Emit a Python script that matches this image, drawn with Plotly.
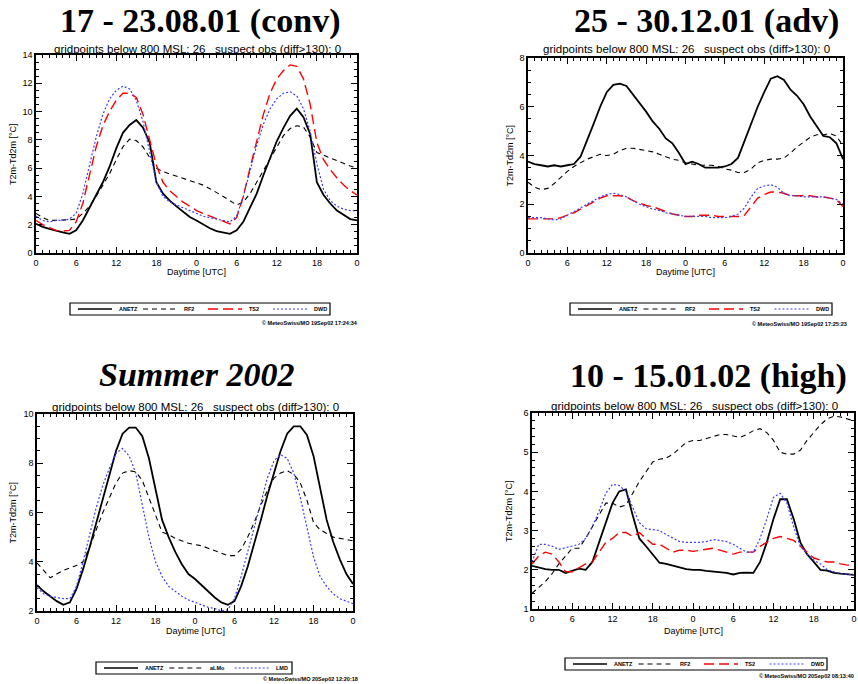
import plotly.graph_objects as go

hours = list(range(49))
tick_vals = [0, 6, 12, 18, 24, 30, 36, 42, 48]
tick_text = ["0", "6", "12", "18", "0", "6", "12", "18", "0"]

# Panel 1: 17 - 23.08.01 (conv)
p1_anetz = [2.06, 1.85, 1.7, 1.55, 1.45, 1.35, 1.6, 2.3, 3.2, 4.0, 5.0, 6.1, 7.4, 8.5, 9.05, 9.4, 8.86, 7.8,
            5.0, 4.2, 3.7, 3.3, 2.9, 2.55, 2.3, 2.0, 1.75, 1.55, 1.45, 1.35, 1.6, 2.2, 3.2, 4.2, 5.5, 6.7,
            7.9, 8.85, 9.7, 10.2, 9.6, 8.4, 5.0, 4.1, 3.5, 3.0, 2.7, 2.4, 2.3]
p1_rf2 = [2.8, 2.5, 2.3, 2.3, 2.3, 2.35, 2.4, 2.8, 3.3, 4.0, 4.8, 5.6, 6.6, 7.5, 8.05, 7.95, 7.5, 6.7,
          6.0, 5.75, 5.6, 5.45, 5.3, 5.15, 5.0, 4.8, 4.55, 4.3, 4.0, 3.7, 3.4, 3.6, 4.2, 5.0, 5.8, 6.6,
          7.5, 8.3, 8.8, 9.0, 8.9, 8.2, 7.1, 6.9, 6.7, 6.5, 6.3, 6.15, 6.0]
p1_ts2 = [2.3, 2.0, 1.8, 1.6, 1.55, 1.6, 2.2, 3.5, 5.5, 7.5, 9.0, 10.0, 10.8, 11.3, 11.3, 11.0, 9.8, 8.0,
          6.2, 5.0, 4.4, 4.0, 3.6, 3.3, 3.0, 2.8, 2.6, 2.4, 2.2, 2.05, 2.5, 4.0, 6.0, 8.0, 9.8, 11.3,
          12.3, 12.9, 13.3, 13.2, 12.3, 10.5, 7.8, 6.6, 5.9, 5.3, 4.8, 4.4, 4.1]
p1_dwd = [2.6, 2.3, 2.2, 2.3, 2.3, 2.4, 2.8, 4.2, 6.2, 8.2, 9.8, 10.9, 11.5, 11.8, 11.6, 10.8, 9.3, 7.2,
          5.0, 4.0, 3.6, 3.4, 3.2, 3.0, 2.8, 2.6, 2.5, 2.4, 2.25, 2.2, 2.6, 4.0, 5.8, 7.6, 9.1, 10.2,
          10.9, 11.3, 11.4, 11.1, 10.2, 8.6, 6.3, 4.5, 3.7, 3.3, 3.1, 3.0, 3.0]

# Panel 2: 25 - 30.12.01 (adv)
p2_anetz = [3.75, 3.65, 3.6, 3.55, 3.6, 3.55, 3.6, 3.65, 3.95, 4.6, 5.3, 6.0, 6.6, 6.9, 6.95, 6.85, 6.5, 6.2,
            5.8, 5.4, 5.1, 4.7, 4.5, 4.1, 3.65, 3.75, 3.65, 3.5, 3.5, 3.5, 3.55, 3.65, 3.9, 4.6, 5.3, 6.0,
            6.6, 7.15, 7.25, 7.1, 6.7, 6.45, 6.1, 5.6, 5.2, 4.8, 4.75, 4.5, 3.85]
p2_rf2 = [2.9, 2.7, 2.6, 2.65, 2.85, 3.1, 3.35, 3.55, 3.7, 3.85, 3.95, 4.05, 4.0, 4.05, 4.2, 4.3, 4.3, 4.25,
          4.2, 4.15, 4.05, 3.95, 3.85, 3.8, 3.7, 3.65, 3.6, 3.6, 3.6, 3.55, 3.45, 3.4, 3.3, 3.3, 3.45, 3.7,
          3.8, 3.85, 3.85, 3.9, 4.1, 4.35, 4.55, 4.75, 4.85, 4.85, 4.9, 4.8, 4.4]
p2_ts2 = [1.4, 1.4, 1.4, 1.4, 1.4, 1.45, 1.55, 1.65, 1.8, 1.95, 2.1, 2.25, 2.35, 2.35, 2.35, 2.3, 2.15, 2.05,
          1.95, 1.9, 1.8, 1.7, 1.6, 1.55, 1.5, 1.5, 1.55, 1.55, 1.55, 1.5, 1.5, 1.5, 1.5, 1.55, 1.9, 2.25,
          2.4, 2.5, 2.5, 2.45, 2.35, 2.35, 2.35, 2.35, 2.3, 2.3, 2.25, 2.2, 1.9]
p2_dwd = [1.45, 1.45, 1.45, 1.4, 1.35, 1.4, 1.55, 1.7, 1.85, 2.0, 2.15, 2.3, 2.4, 2.45, 2.4, 2.3, 2.15, 2.0,
          1.9, 1.8, 1.75, 1.65, 1.6, 1.55, 1.5, 1.5, 1.5, 1.5, 1.45, 1.45, 1.45, 1.5, 1.6, 1.85, 2.3, 2.65,
          2.75, 2.8, 2.7, 2.45, 2.35, 2.35, 2.3, 2.3, 2.3, 2.3, 2.25, 2.2, 2.0]

# Panel 3: Summer 2002
p3_anetz = [3.05, 2.8, 2.6, 2.4, 2.25, 2.35, 2.9, 3.7, 4.6, 5.6, 6.6, 7.6, 8.5, 9.2, 9.45, 9.45, 9.1, 8.2,
            6.9, 5.7, 5.0, 4.4, 3.9, 3.5, 3.3, 3.05, 2.8, 2.55, 2.35, 2.25, 2.4, 3.0, 3.8, 4.7, 5.7, 6.7,
            7.6, 8.5, 9.2, 9.5, 9.5, 9.15, 8.3, 7.0, 5.7, 4.8, 4.1, 3.5, 3.1]
p3_almo = [3.95, 3.65, 3.35, 3.5, 3.65, 3.75, 3.85, 4.0, 4.6, 5.3, 6.0, 6.6, 7.2, 7.6, 7.7, 7.65, 7.3, 6.6,
           5.9, 5.2, 5.1, 4.95, 4.85, 4.75, 4.7, 4.65, 4.55, 4.45, 4.35, 4.25, 4.25, 4.5, 5.0, 5.6, 6.3, 6.9,
           7.4, 7.6, 7.7, 7.55, 7.2, 6.5, 5.6, 5.3, 5.15, 5.0, 4.95, 4.9, 4.85]
p3_lmd = [2.95, 2.7, 2.6, 2.55, 2.5, 2.5, 3.0, 4.0, 5.1, 6.2, 7.1, 7.8, 8.4, 8.6, 8.3, 7.6, 6.3, 5.0,
          4.0, 3.4, 3.0, 2.8, 2.6, 2.45, 2.35, 2.25, 2.15, 2.1, 2.0, 2.05, 2.5, 3.4, 4.4, 5.5, 6.5, 7.4,
          8.1, 8.35, 8.2, 7.6, 6.6, 5.4, 4.2, 3.4, 3.0, 2.7, 2.5, 2.4, 2.3]

# Panel 4: 10 - 15.01.02 (high)
p4_anetz = [2.1, 2.05, 2.02, 2.0, 2.0, 1.92, 1.97, 2.03, 2.0, 2.2, 2.7, 3.2, 3.7, 4.0, 4.05, 3.4, 2.8, 2.6,
            2.4, 2.18, 2.15, 2.1, 2.05, 2.02, 2.0, 2.0, 1.97, 1.95, 1.93, 1.92, 1.88, 1.92, 1.93, 1.92, 2.2, 2.7,
            3.3, 3.8, 3.8, 3.3, 2.7, 2.4, 2.2, 2.0, 1.98, 1.92, 1.9, 1.88, 1.87]
p4_rf2 = [1.4, 1.55, 1.7, 1.9, 2.15, 2.35, 2.55, 2.55, 2.8, 3.1, 3.4, 3.7, 3.7, 3.6, 3.65, 3.95, 4.25, 4.5,
          4.75, 4.82, 4.85, 4.95, 5.1, 5.25, 5.3, 5.3, 5.35, 5.4, 5.45, 5.45, 5.42, 5.38, 5.45, 5.55, 5.6, 5.5,
          5.3, 5.0, 4.95, 4.95, 5.05, 5.3, 5.5, 5.7, 5.85, 5.92, 5.9, 5.85, 5.8]
p4_ts2 = [2.15, 2.35, 2.45, 2.4, 2.2, 1.95, 1.95, 2.05, 2.15, 2.2, 2.45, 2.7, 2.8, 2.95, 2.95, 2.85, 2.95, 2.8,
          2.65, 2.65, 2.55, 2.45, 2.5, 2.5, 2.47, 2.5, 2.52, 2.55, 2.5, 2.45, 2.4, 2.45, 2.45, 2.45, 2.6, 2.7,
          2.8, 2.85, 2.8, 2.75, 2.6, 2.45, 2.3, 2.25, 2.2, 2.2, 2.15, 2.12, 2.12]
p4_dwd = [2.2, 2.65, 2.65, 2.6, 2.52, 2.57, 2.62, 2.65, 2.8, 3.1, 3.5, 3.95, 4.18, 4.15, 4.0, 3.6, 3.2, 3.05,
          3.03, 3.0, 2.9, 2.8, 2.72, 2.7, 2.7, 2.7, 2.72, 2.77, 2.75, 2.72, 2.65, 2.55, 2.45, 2.45, 2.8, 3.3,
          3.85, 3.95, 3.7, 3.1, 2.6, 2.4, 2.25, 2.15, 2.0, 1.95, 1.9, 1.88, 1.88]

titles = ["17 - 23.08.01 (conv)", "25 - 30.12.01 (adv)", "<i>Summer 2002</i>", "10 - 15.01.02 (high)"]
subtitle = "gridpoints below 800 MSL: 26   suspect obs (diff>130): 0"
stamps = ["© MeteoSwiss/MO 19Sep02 17:24:34", "© MeteoSwiss/MO 19Sep02 17:25:23",
          "© MeteoSwiss/MO 20Sep02 12:20:18", "© MeteoSwiss/MO 20Sep02 08:13:40"]

W, H = 858, 684
def px(x): return x / W
def py(y): return 1 - y / H

styles = {
    "ANETZ": dict(color="black", width=1.8, dash="solid"),
    "RF2": dict(color="black", width=1.1, dash="5px,4px"),
    "aLMo": dict(color="black", width=1.1, dash="5px,4px"),
    "TS2": dict(color="red", width=1.4, dash="10px,5px"),
    "DWD": dict(color="#3c3cff", width=1.2, dash="2px,2px"),
    "LMD": dict(color="#3c3cff", width=1.2, dash="2px,2px"),
}

panels = [
    dict(series=[("ANETZ", p1_anetz), ("RF2", p1_rf2), ("TS2", p1_ts2), ("DWD", p1_dwd)],
         box=(36, 357, 55, 253), yr=(0, 14), dt=2, mdt=0.5,
         title_xy=(200, 21), sub_xy=(197, 49), ylab_x=13, xlab_y=272,
         leg=(70, 303, 330), stamp=(360, 323)),
    dict(series=[("ANETZ", p2_anetz), ("RF2", p2_rf2), ("TS2", p2_ts2), ("DWD", p2_dwd)],
         box=(528, 843, 58, 253), yr=(0, 8), dt=2, mdt=0.5,
         title_xy=(706, 21), sub_xy=(686, 49), ylab_x=509, xlab_y=272,
         leg=(570, 303, 832), stamp=(849, 324)),
    dict(series=[("ANETZ", p3_anetz), ("aLMo", p3_almo), ("LMD", p3_lmd)],
         box=(37, 353, 414, 611), yr=(2, 10), dt=2, mdt=0.5,
         title_xy=(197, 374), sub_xy=(195, 407), ylab_x=12, xlab_y=631,
         leg=(96, 662, 292), stamp=(360, 679)),
    dict(series=[("ANETZ", p4_anetz), ("RF2", p4_rf2), ("TS2", p4_ts2), ("DWD", p4_dwd)],
         box=(532, 854, 413, 609), yr=(1, 6), dt=1, mdt=0.2,
         title_xy=(708, 376), sub_xy=(694, 406), ylab_x=509, xlab_y=631,
         leg=(565, 658, 827), stamp=(856, 676)),
]

fig = go.Figure()
annotations = []
shapes = []
layout = {}
for i, p in enumerate(panels):
    k = i + 1
    xa = "x" if k == 1 else f"x{k}"
    ya = "y" if k == 1 else f"y{k}"
    for name, vals in p["series"]:
        st = styles[name]
        fig.add_trace(go.Scatter(x=hours, y=vals, mode="lines", name=name, showlegend=False,
                                 line=dict(color=st["color"], width=st["width"], dash=st["dash"]),
                                 xaxis=xa, yaxis=ya))
    x0, x1, y0, y1 = p["box"]
    common = dict(showline=True, linecolor="black", linewidth=1.5, mirror="allticks",
                  ticks="inside", ticklen=6, tickwidth=1, tickcolor="black",
                  showgrid=False, zeroline=False,
                  tickfont=dict(family="Liberation Sans", size=9, color="black"))
    layout["xaxis" if k == 1 else f"xaxis{k}"] = dict(
        domain=[px(x0), px(x1)], anchor=ya, range=[0, 48], tickvals=tick_vals, ticktext=tick_text,
        minor=dict(dtick=1, ticklen=3, ticks="inside", tickcolor="black"), **common)
    layout["yaxis" if k == 1 else f"yaxis{k}"] = dict(
        domain=[py(y1), py(y0)], anchor=xa, range=list(p["yr"]), dtick=p["dt"], tick0=0,
        minor=dict(dtick=p["mdt"], ticklen=3, ticks="inside", tickcolor="black"), **common)

    # legend box drawn in paper coordinates
    lx0, ly0, lx1 = p["leg"]
    lh = 12
    shapes.append(dict(type="rect", xref="paper", yref="paper", x0=px(lx0), x1=px(lx1),
                       y0=py(ly0 + lh), y1=py(ly0), line=dict(color="black", width=1.2),
                       fillcolor="white", layer="above"))
    n = len(p["series"])
    step = (lx1 - lx0) / n
    for j, (name, _) in enumerate(p["series"]):
        st = styles[name]
        ex = lx0 + 8 + j * step
        yc = ly0 + lh / 2
        shapes.append(dict(type="line", xref="paper", yref="paper", x0=px(ex), x1=px(ex + 34),
                           y0=py(yc), y1=py(yc),
                           line=dict(color=st["color"], width=min(st["width"], 1.3), dash=st["dash"])))
        annotations.append(dict(text=f"<b>{name}</b>", x=px(ex + 39), y=py(yc), xref="paper", yref="paper",
                                showarrow=False, xanchor="left", yanchor="middle",
                                font=dict(family="Liberation Sans", size=5.5, color="black")))

    tx, ty = p["title_xy"]
    annotations.append(dict(text=f"<b>{titles[i]}</b>", x=px(tx), y=py(ty), xref="paper", yref="paper",
                            showarrow=False, xanchor="center", yanchor="middle",
                            font=dict(family="Liberation Serif", size=34, color="black")))
    sx, sy = p["sub_xy"]
    annotations.append(dict(text=subtitle.replace("   ", "&nbsp;&nbsp;&nbsp;"), x=px(sx), y=py(sy),
                            xref="paper", yref="paper", showarrow=False, xanchor="center", yanchor="middle",
                            font=dict(family="Liberation Sans", size=11.5, color="black")))
    annotations.append(dict(text="T2m-Td2m [°C]", x=px(p["ylab_x"]), y=py((y0 + y1) / 2), xref="paper",
                            yref="paper", showarrow=False, textangle=-90, xanchor="center", yanchor="middle",
                            font=dict(family="Liberation Sans", size=9, color="black")))
    annotations.append(dict(text="Daytime [UTC]", x=px((x0 + x1) / 2), y=py(p["xlab_y"]), xref="paper",
                            yref="paper", showarrow=False, xanchor="center", yanchor="middle",
                            font=dict(family="Liberation Sans", size=9, color="black")))
    stx, sty = p["stamp"]
    annotations.append(dict(text=f"<b>{stamps[i]}</b>", x=px(stx), y=py(sty), xref="paper", yref="paper",
                            showarrow=False, xanchor="right", yanchor="middle",
                            font=dict(family="Liberation Sans", size=5.5, color="black")))

fig.update_layout(width=W, height=H, margin=dict(l=0, r=0, t=0, b=0, autoexpand=False),
                  paper_bgcolor="white", plot_bgcolor="white", showlegend=False,
                  annotations=annotations, shapes=shapes, **layout)
fig.write_html("out.html", config={"displayModeBar": False},
               post_script="document.body.style.margin='0';document.body.style.overflow='hidden';")
